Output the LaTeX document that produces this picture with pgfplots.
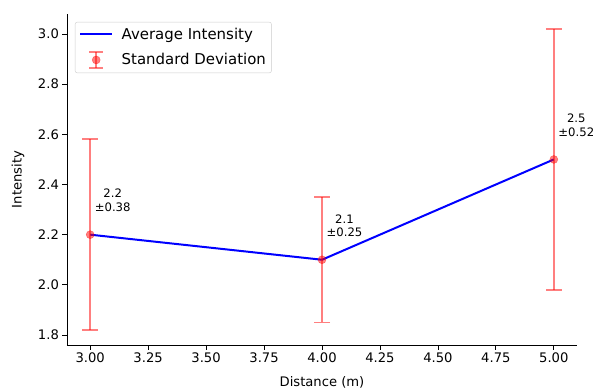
\documentclass[border=0pt]{standalone}
\usepackage{pgfplots}
\pgfplotsset{compat=1.18}
\usepackage{fontspec}
\setmainfont{DejaVu Sans}

\definecolor{errred}{rgb}{1,0,0}

\begin{document}
\begin{tikzpicture}
\path[use as bounding box] (-67bp,-45bp) rectangle (528bp,345bp);
\begin{axis}[
  scale only axis,
  width=510bp, height=331bp,
  xmin=2.9, xmax=5.1,
  ymin=1.76, ymax=3.08,
  clip=false,
  axis lines=left,
  axis line style={-, line width=0.8bp, black},
  tick align=outside,
  major tick length=4.6bp,
  tick style={line width=0.8bp, black},
  xtick={3,3.25,...,5},
  ytick={1.8,2.0,...,3.01},
  xticklabel style={/pgf/number format/.cd, fixed, fixed zerofill, precision=2},
  yticklabel style={/pgf/number format/.cd, fixed, fixed zerofill, precision=1},
  /pgf/number format/assume math mode=true,
  ticklabel style={font=\fontsize{13.2}{15}\selectfont},
  xlabel={Distance (m)},
  ylabel={Intensity},
  every axis x label/.style={at={(axis description cs:0.5,-0.1118)}, anchor=center,
    font=\fontsize{13.2}{15}\selectfont},
  every axis y label/.style={at={(axis description cs:-0.0961,0.5)}, anchor=center, rotate=90,
    font=\fontsize{13.2}{15}\selectfont},
  legend style={
    at={(axis description cs:0,1)}, anchor=north west, xshift=8bp, yshift=-8bp,
    draw=black!20, rounded corners=2bp, fill=white, fill opacity=0.8, text opacity=1,
    font=\fontsize{15}{18}\selectfont,
    inner xsep=4bp, inner ysep=4bp,
    row sep=9bp, column sep=7bp,
    nodes={inner sep=1.5bp},
  },
  legend cell align=left,
]

% legend keys: a plain line and an error bar with its marker
\addlegendimage{blue, line width=2bp, legend image code/.code={
  \draw[blue, line width=2bp] (0bp,0bp) -- (32bp,0bp);}}
\addlegendentry{Average Intensity}
\addlegendimage{legend image code/.code={
  \draw[errred, opacity=0.5, line width=1.8bp] (16bp,-8bp) -- (16bp,8bp);
  \draw[errred, opacity=0.5, line width=1.8bp] (9bp,-8bp) -- (23bp,-8bp);
  \draw[errred, opacity=0.5, line width=1.8bp] (9bp,8bp) -- (23bp,8bp);
  \fill[errred, opacity=0.5] (16bp,0bp) circle (4bp);}}
\addlegendentry{Standard Deviation}

% mean intensity at each distance
\addplot[blue, line width=2bp, forget plot] coordinates {(3,2.2) (4,2.1) (5,2.5)};

% the same means with their spread
\addplot[
  forget plot,
  only marks,
  mark=*, mark size=4bp,
  mark options={draw=errred, fill=errred, opacity=0.5},
  error bars/.cd, y dir=both, y explicit,
  error bar style={errred, opacity=0.5, line width=1.8bp},
  error mark options={rotate=90, mark size=8bp, errred, opacity=0.5, line width=1.8bp},
] coordinates {
  (3,2.2) +- (0,0.38)
  (4,2.1) +- (0,0.25)
  (5,2.5) +- (0,0.52)
};

\node[align=center, font=\fontsize{11.7}{14}\selectfont, xshift=22.5bp, yshift=34bp] at (axis cs:3,2.2) {2.2\\±0.38};
\node[align=center, font=\fontsize{11.7}{14}\selectfont, xshift=22.5bp, yshift=34bp] at (axis cs:4,2.1) {2.1\\±0.25};
\node[align=center, font=\fontsize{11.7}{14}\selectfont, xshift=22.5bp, yshift=34bp] at (axis cs:5,2.5) {2.5\\±0.52};
\end{axis}
\end{tikzpicture}
\end{document}
